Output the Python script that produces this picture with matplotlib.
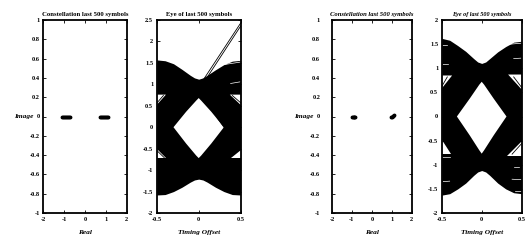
import matplotlib
matplotlib.use("Agg")
import matplotlib.pyplot as plt

plt.rcParams["font.family"] = ["Liberation Serif", "DejaVu Serif"]
plt.rcParams["font.weight"] = "bold"

# ---- constellation points (real part, imag part) ----
const_left_re = [-1.12, -1.07, -1.02, -0.97, -0.93, -0.88, -0.83, -0.78, -0.73,
                 0.72, 0.77, 0.82, 0.87, 0.92, 0.97, 1.02, 1.07, 1.12]
const_left_im = [0.0] * len(const_left_re)
const_right_re = [-0.98, -0.95, -0.92, -0.89, -0.86, 0.98, 1.01, 1.04, 1.07, 1.10]
const_right_im = [0.0, 0.0, 0.0, 0.0, 0.0, -0.005, 0.0, 0.005, 0.01, 0.015]

# ---- eye diagram, left ----
eye_t = [-0.5, -0.4, -0.3, -0.2, -0.1, -0.05, 0.0, 0.05, 0.1, 0.2, 0.3, 0.4, 0.5]
eyeL_upper = [1.57, 1.55, 1.48, 1.35, 1.21, 1.15, 1.12, 1.15, 1.21, 1.34, 1.46, 1.54, 1.56]
eyeL_lower = [-1.58, -1.57, -1.50, -1.40, -1.28, -1.23, -1.21, -1.23, -1.28, -1.40, -1.50, -1.57, -1.58]
eyeL_diamond_t = [-0.30, -0.15, -0.03, 0.0, 0.03, 0.15, 0.30, 0.15, 0.03, 0.0, -0.03, -0.15]
eyeL_diamond_y = [0.0, 0.36, 0.62, 0.68, 0.62, 0.36, 0.0, -0.38, -0.66, -0.72, -0.66, -0.38]
eyeL_gaps = [
    ([-0.5, -0.39, -0.5], [0.76, 0.76, 0.52]),
    ([0.5, 0.37, 0.5], [0.76, 0.76, 0.52]),
    ([-0.5, -0.5, -0.39], [-0.50, -0.72, -0.72]),
    ([0.5, 0.5, 0.39], [-0.52, -0.72, -0.72]),
]
eyeL_dark = [
    ([-0.5, -0.42], [0.56, 0.74]),
    ([0.40, 0.5], [0.74, 0.57]),
    ([-0.5, -0.41], [-0.54, -0.71]),
    ([0.06, 0.5], [1.12, 2.43]),
    ([0.10, 0.5], [1.16, 2.36]),
    ([0.30, 0.22], [0.0, 0.22]),
]
eyeL_light = [
    ([0.38, 0.5], [1.02, 1.06]),
    ([0.30, 0.5], [1.46, 1.52]),
]

# ---- eye diagram, right ----
eyeR_upper = [1.62, 1.58, 1.47, 1.35, 1.20, 1.13, 1.10, 1.13, 1.20, 1.34, 1.45, 1.54, 1.56]
eyeR_lower = [-1.63, -1.60, -1.50, -1.38, -1.22, -1.15, -1.12, -1.15, -1.22, -1.38, -1.50, -1.58, -1.60]
eyeR_diamond_t = [-0.31, -0.15, -0.03, 0.0, 0.03, 0.15, 0.31, 0.15, 0.03, 0.0, -0.03, -0.15]
eyeR_diamond_y = [0.0, 0.37, 0.66, 0.72, 0.66, 0.37, 0.0, -0.39, -0.70, -0.77, -0.70, -0.39]
eyeR_gaps = [
    ([-0.5, -0.37, -0.5], [0.85, 0.85, 0.58]),
    ([0.5, 0.33, 0.5], [0.87, 0.87, 0.56]),
    ([-0.5, -0.5, -0.38], [-0.48, -0.78, -0.78]),
    ([0.5, 0.5, 0.32], [-0.50, -0.82, -0.82]),
]
eyeR_dark = [
    ([-0.5, -0.43], [0.62, 0.82]),
    ([0.40, 0.5], [0.82, 0.60]),
    ([0.38, 0.5], [-0.78, -0.56]),
]
eyeR_light = [
    ([-0.5, -0.42], [1.09, 1.09]),
    ([-0.5, -0.44], [1.48, 1.48]),
    ([-0.5, -0.40], [-0.84, -0.84]),
    ([-0.48, -0.40], [-1.35, -1.34]),
    ([0.36, 0.5], [1.50, 1.52]),
    ([0.40, 0.5], [1.20, 1.21]),
    ([0.38, 0.5], [-1.30, -1.31]),
    ([0.42, 0.5], [-1.55, -1.55]),
    ([0.40, 0.46], [-1.05, -1.05]),
]

const_yticks = [-1, -0.8, -0.6, -0.4, -0.2, 0, 0.2, 0.4, 0.6, 0.8, 1]
const_ytlabels = ["-1", "-0.8", "-0.6", "-0.4", "-0.2", "0", "0.2", "0.4", "0.6", "0.8", "1"]
const_xticks = [-2, -1, 0, 1, 2]
eyeL_yticks = [-2, -1.5, -1, -0.5, 0, 0.5, 1, 1.5, 2, 2.5]
eyeR_yticks = [-2, -1.5, -1, -0.5, 0, 0.5, 1, 1.5, 2]
eye_xticks = [-0.5, 0, 0.5]

W, H = 526, 244
fig = plt.figure(figsize=(W / 100, H / 100), dpi=100)


def box(x0, x1, y0=20, y1=213):
    return [x0 / W, 1 - y1 / H, (x1 - x0) / W, (y1 - y0) / H]


def style(ax, ypad):
    ax.tick_params(direction="in", length=2, width=0.6, top=True, right=True,
                   labelsize=4.6, pad=3)
    ax.tick_params(axis="y", pad=ypad)
    for s in ax.spines.values():
        s.set_linewidth(1.3)
    for lab in ax.get_xticklabels() + ax.get_yticklabels():
        lab.set_fontweight("bold")


def fmt(v):
    return f"{v:g}"


def constellation(ax, re, im, ypad, italic, ylab_x):
    ax.plot(re, im, ".", color="black", markersize=3.5)
    ax.set_xlim(-2, 2)
    ax.set_ylim(-1, 1)
    ax.set_xticks(const_xticks)
    ax.set_xticklabels([fmt(v) for v in const_xticks])
    ax.set_yticks(const_yticks)
    ax.set_yticklabels(const_ytlabels)
    style(ax, ypad)
    ax.set_title("Constellation last 500 symbols", fontsize=4.8, fontweight="bold",
                 style="italic" if italic else "normal", pad=3)
    ax.set_xlabel("Real", fontsize=5.3, fontweight="bold", style="italic", va="center")
    ax.xaxis.set_label_coords(0.5, -0.102)
    ax.set_ylabel("Image", fontsize=5.3, fontweight="bold", style="italic",
                  rotation=0, ha="right", va="center")
    ax.yaxis.set_label_coords(ylab_x, 0.5)


def eye(ax, upper, lower, dt, dy, gaps, dark, light, ylim, yticks, italic, tsize):
    ax.fill_between(eye_t, lower, upper, color="black", linewidth=0)
    ax.fill(dt, dy, color="white", linewidth=0)
    for gt, gy in gaps:
        ax.fill(gt, gy, color="white", linewidth=0)
    for lt, ly in dark:
        ax.plot(lt, ly, color="black", linewidth=0.6)
    for lt, ly in light:
        ax.plot(lt, ly, color="white", linewidth=0.5)
    ax.set_xlim(-0.5, 0.5)
    ax.set_ylim(*ylim)
    ax.set_xticks(eye_xticks)
    ax.set_xticklabels([fmt(v) for v in eye_xticks])
    ax.set_yticks(yticks)
    ax.set_yticklabels([fmt(v) for v in yticks])
    style(ax, 2.5)
    ax.set_title("Eye of last 500 symbols", fontsize=tsize, fontweight="bold",
                 style="italic" if italic else "normal", pad=3)
    ax.set_xlabel("Timing Offset", fontsize=5.3, fontweight="bold", style="italic",
                  va="center")
    ax.xaxis.set_label_coords(0.5, -0.102)


ax1 = fig.add_axes(box(43.3, 126.7))
constellation(ax1, const_left_re, const_left_im, 2.5, False, -0.124)

ax2 = fig.add_axes(box(156.7, 240.7))
eye(ax2, eyeL_upper, eyeL_lower, eyeL_diamond_t, eyeL_diamond_y, eyeL_gaps,
    eyeL_dark, eyeL_light, (-2, 2.5), eyeL_yticks, False, 4.8)

ax3 = fig.add_axes(box(332, 411.7))
constellation(ax3, const_right_re, const_right_im, 8.5, True, -0.238)

ax4 = fig.add_axes(box(441.7, 521.7))
eye(ax4, eyeR_upper, eyeR_lower, eyeR_diamond_t, eyeR_diamond_y, eyeR_gaps,
    eyeR_dark, eyeR_light, (-2, 2), eyeR_yticks, True, 4.4)

fig.savefig("out.png", dpi=100)
